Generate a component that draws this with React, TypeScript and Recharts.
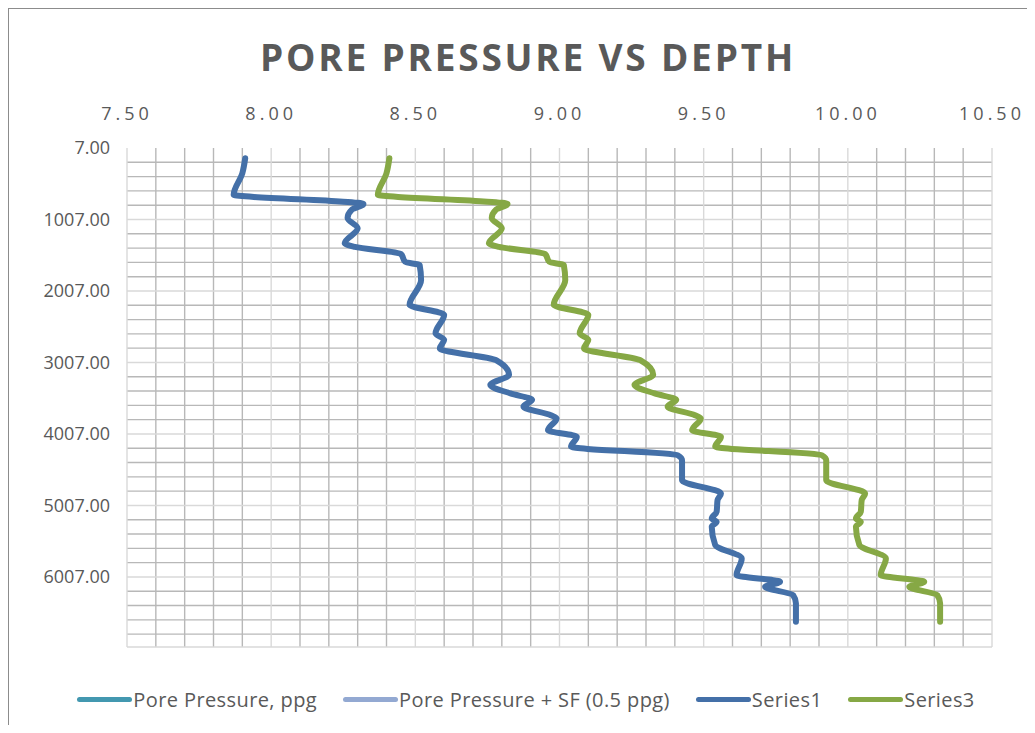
import { LineChart, Line, XAxis, YAxis, ReferenceLine } from "recharts";

// x axis (ppg) and y axis (depth) tick labels
const xMajorTicks = [7.5, 8, 8.5, 9, 9.5, 10, 10.5];
const yMajorTicks = [7, 1007, 2007, 3007, 4007, 5007, 6007];

// depth points shared by both plotted series
const depths = [
  150, 360, 660, 790, 870, 985, 1130, 1340, 1390, 1490, 1600, 1645, 1855, 2200, 2340, 2600,
  2690, 2810, 2975, 3180, 3320, 3440, 3530, 3625, 3745, 3790, 3955, 4045, 4185, 4305, 4375,
  4655, 4840, 4935, 5095, 5190, 5235, 5305, 5560, 5748, 5980, 6075, 6145, 6260, 6375, 6635,
];

// Series1 (pore pressure, ppg)
const series1 = [
  7.91, 7.9, 7.87, 8.32, 8.28, 8.265, 8.3, 8.255, 8.29, 8.45, 8.465, 8.515, 8.52, 8.48, 8.6, 8.57,
  8.6, 8.585, 8.78, 8.825, 8.76, 8.83, 8.905, 8.875, 8.97, 8.99, 8.96, 9.06, 9.04, 9.41, 9.425,
  9.425, 9.56, 9.548, 9.545, 9.528, 9.545, 9.528, 9.54, 9.632, 9.614, 9.765, 9.713, 9.81, 9.82, 9.82,
];

// Series3 (pore pressure + 0.5 ppg safety factor)
const series3 = [
  8.41, 8.4, 8.37, 8.82, 8.78, 8.765, 8.8, 8.755, 8.79, 8.95, 8.965, 9.015, 9.02, 8.98, 9.1, 9.07,
  9.1, 9.085, 9.28, 9.325, 9.26, 9.33, 9.405, 9.375, 9.47, 9.49, 9.46, 9.56, 9.54, 9.91, 9.925,
  9.925, 10.06, 10.048, 10.045, 10.028, 10.045, 10.028, 10.04, 10.132, 10.114, 10.265, 10.213, 10.31, 10.32, 10.32,
];

const legendItems = [
  { name: "Pore Pressure, ppg", color: "#4398B0" },
  { name: "Pore Pressure + SF (0.5 ppg)", color: "#93A9D2" },
  { name: "Series1", color: "#4470A8" },
  { name: "Series3", color: "#86A845" },
];

const series1Data = depths.map((d, i) => ({ ppg: series1[i], depth: d }));
const series3Data = depths.map((d, i) => ({ ppg: series3[i], depth: d }));

// minor gridlines every 0.1 ppg and every 200 ft
const xMinor = Array.from({ length: 31 }, (_, i) => +(7.5 + i * 0.1).toFixed(1)).filter(
  (v) => !xMajorTicks.includes(v)
);
const yMinor = Array.from({ length: 35 }, (_, i) => 7 + i * 200).filter((v) => !yMajorTicks.includes(v));

const Y_MAX = 6987;
const textColor = "#595959";
const font = "'Open Sans', sans-serif";

export default function App() {
  return (
    <div
      style={{
        position: "relative",
        width: 1019,
        height: 717,
        boxSizing: "border-box",
        borderTop: "1px solid #8c8c8c",
        borderLeft: "1px solid #8c8c8c",
        fontFamily: font,
        background: "#fff",
      }}
    >
      {/* Title */}
      <div
        style={{
          position: "absolute",
          top: 26,
          left: 0,
          width: 1038,
          textAlign: "center",
          fontSize: 37,
          lineHeight: "44px",
          fontWeight: 700,
          letterSpacing: 2.8,
          color: textColor,
        }}
      >
        PORE PRESSURE VS DEPTH
      </div>

      <LineChart width={1018} height={716} margin={{ top: 99, right: 35, bottom: 78, left: 18 }}>
        <XAxis
          type="number"
          dataKey="ppg"
          orientation="top"
          domain={[7.5, 10.5]}
          ticks={xMajorTicks}
          allowDataOverflow
          height={40}
          axisLine={false}
          tickLine={false}
          tickSize={0}
          tickMargin={28}
          tickFormatter={(v: number) => v.toFixed(2)}
          tick={{ fill: textColor, fontSize: 18, letterSpacing: 4, fontFamily: font }}
        />
        <YAxis
          type="number"
          dataKey="depth"
          reversed
          domain={[7, Y_MAX]}
          ticks={yMajorTicks}
          allowDataOverflow
          width={100}
          axisLine={false}
          tickLine={false}
          tickSize={0}
          tickMargin={17}
          tickFormatter={(v: number) => v.toFixed(2)}
          tick={{ fill: textColor, fontSize: 18, fontFamily: font }}
        />

        {/* Gridlines */}
        {xMinor.map((v) => (
          <ReferenceLine key={"xm" + v} x={v} stroke="#b8b8b8" strokeWidth={1.4} />
        ))}
        {yMinor.map((v) => (
          <ReferenceLine key={"ym" + v} y={v} stroke="#b8b8b8" strokeWidth={1.4} />
        ))}
        {xMajorTicks.map((v) => (
          <ReferenceLine key={"xM" + v} x={v} stroke="#d9d9d9" strokeWidth={1.4} />
        ))}
        {yMajorTicks.slice(1).map((v) => (
          <ReferenceLine key={"yM" + v} y={v} stroke="#d9d9d9" strokeWidth={1.4} />
        ))}
        <ReferenceLine y={Y_MAX} stroke="#d9d9d9" strokeWidth={1.4} />

        <Line
          data={series1Data}
          dataKey="depth"
          type="monotoneY"
          stroke="#4470A8"
          strokeWidth={6}
          strokeLinecap="round"
          strokeLinejoin="round"
          dot={false}
          activeDot={false}
          isAnimationActive={false}
        />
        <Line
          data={series3Data}
          dataKey="depth"
          type="monotoneY"
          stroke="#86A845"
          strokeWidth={6}
          strokeLinecap="round"
          strokeLinejoin="round"
          dot={false}
          activeDot={false}
          isAnimationActive={false}
        />
      </LineChart>

      {/* Legend */}
      <div
        style={{
          position: "absolute",
          top: 677,
          left: 8,
          width: 1018,
          display: "flex",
          justifyContent: "center",
          alignItems: "center",
          gap: 26,
          fontSize: 20,
          letterSpacing: 0.4,
          color: textColor,
        }}
      >
        {legendItems.map((item) => (
          <div key={item.name} style={{ display: "flex", alignItems: "center" }}>
            <span
              style={{
                display: "inline-block",
                width: 55,
                height: 5,
                borderRadius: 3,
                background: item.color,
                marginRight: 1,
              }}
            />
            <span>{item.name}</span>
          </div>
        ))}
      </div>
    </div>
  );
}
